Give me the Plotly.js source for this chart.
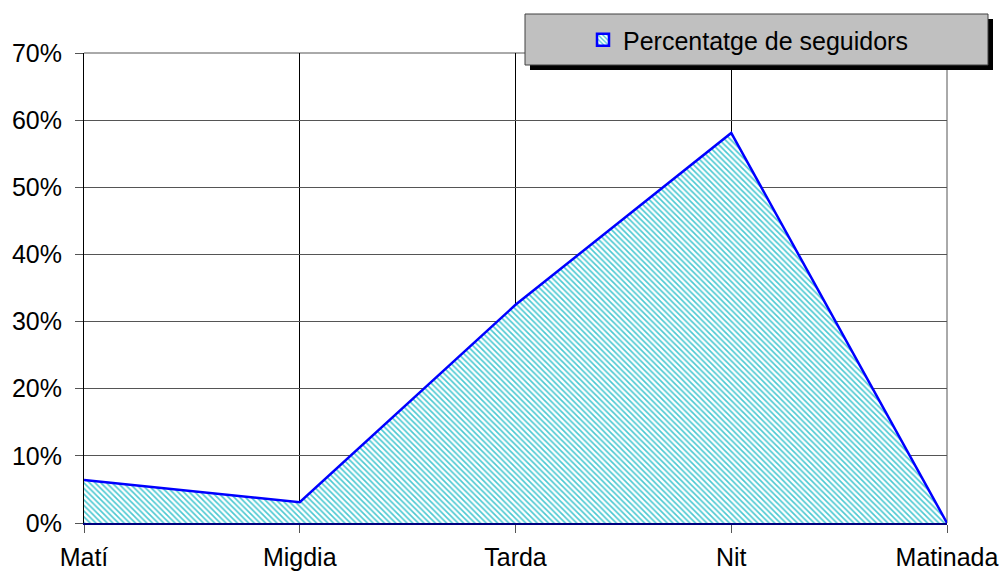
<!DOCTYPE html>
<html><head><meta charset="utf-8">
<script src="https://cdn.plot.ly/plotly-3.0.1.min.js"></script>
<style>html,body{margin:0;padding:0;background:#fff}#chart{width:1003px;height:573px}</style>
</head><body><div id="chart"></div>
<script>
const categories = ["Matí", "Migdia", "Tarda", "Nit", "Matinada"];
const seguidors = [0.064, 0.031, 0.325, 0.581, 0.0];
const seriesName = "Percentatge de seguidors";
const yTickVals = [0, 0.1, 0.2, 0.3, 0.4, 0.5, 0.6, 0.7];

const FONT = "Liberation Sans, Arial, sans-serif";
const PAT = {shape: "\\", fgcolor: "#4cc9d2", bgcolor: "#ffffff", size: 4, solidity: 0.4};
const trace = {
  x: categories, y: seguidors, type: "scatter", mode: "lines",
  name: seriesName, fill: "tozeroy", showlegend: false,
  line: {color: "#0000ff", width: 2.5},
  fillcolor: "rgba(255,255,255,0)",
  fillpattern: PAT
};
// legend-only swatch (no visible mark): square patterned box with blue border
const legendTrace = {
  x: [categories[0]], y: [null], type: "bar", name: seriesName, showlegend: true,
  marker: {color: "#ffffff", pattern: {shape: "\\", fgcolor: "#4cc9d2", bgcolor: "#ffffff", size: 4, solidity: 0.4},
    line: {color: "#0000ff", width: 2.5}}
};
const L = 84, R = 947, T = 53, B = 523;
const px = v => (v - L) / (R - L);
const py = v => (B - v) / (B - T);
const layout = {
  width: 1003, height: 573,
  margin: {l: L, r: 1003 - R, t: T, b: 573 - B},
  paper_bgcolor: "#fff", plot_bgcolor: "#fff",
  font: {family: FONT, size: 25, color: "#000"},
  showlegend: true,
  xaxis: {type: "category", range: [0, 4], showgrid: true, gridcolor: "#000", gridwidth: 1,
    ticks: "outside", ticklen: 8, tickcolor: "#555", showline: true, linecolor: "#000080", linewidth: 1.5,
    tickfont: {family: FONT, size: 25}, ticklabelstandoff: 3, zeroline: false, fixedrange: true},
  yaxis: {range: [0, 0.7], tickvals: yTickVals, tickformat: ".0%", showgrid: true, gridcolor: "#555",
    gridwidth: 1, ticks: "outside", ticklen: 8, tickcolor: "#555", showline: true, linecolor: "#000",
    linewidth: 1, zeroline: false, tickfont: {family: FONT, size: 25}, ticklabelstandoff: 8, fixedrange: true},
  legend: {x: px(748), y: py(40), xanchor: "center", yanchor: "middle", bgcolor: "rgba(0,0,0,0)",
    borderwidth: 0, font: {family: FONT, size: 25, color: "#000"}, itemwidth: 30},
  shapes: [
    {type: "line", xref: "paper", yref: "paper", x0: 0, x1: px(952), y0: 1, y1: 1, line: {color: "#555", width: 1}, layer: "below"},
    {type: "line", xref: "paper", yref: "paper", x0: 1, x1: 1, y0: 0, y1: 1, line: {color: "#555", width: 1}, layer: "below"},
    {type: "rect", xref: "paper", yref: "paper", x0: px(530), x1: px(993), y0: py(70), y1: py(19),
      fillcolor: "#000", line: {width: 0}},
    {type: "rect", xref: "paper", yref: "paper", x0: px(525), x1: px(988), y0: py(65), y1: py(14),
      fillcolor: "#c0c0c0", line: {color: "#404040", width: 1}}
  ]
};
Plotly.newPlot("chart", [trace, legendTrace], layout, {displayModeBar: false, staticPlot: true});
</script></body></html>
